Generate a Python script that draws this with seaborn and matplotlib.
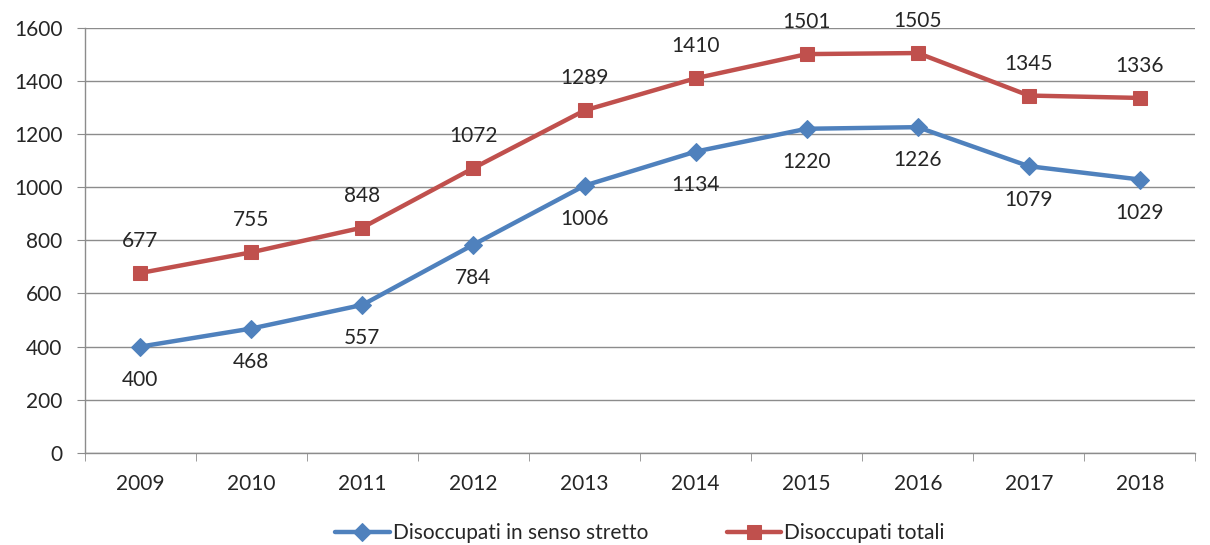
import numpy as np
import pandas as pd
import matplotlib
matplotlib.use("Agg")
import matplotlib.pyplot as plt
import seaborn as sns

# dati (migliaia)
anni = ['2009', '2010', '2011', '2012', '2013', '2014', '2015', '2016', '2017', '2018']
stretto = [400, 468, 557, 784, 1006, 1134, 1220, 1226, 1079, 1029]
totali = [677, 755, 848, 1072, 1289, 1410, 1501, 1505, 1345, 1336]

blu = '#4F81BD'
rosso = '#C0504D'

sns.set_style('white')
plt.rcParams['font.family'] = ['Lato', 'DejaVu Sans']

df = pd.DataFrame({'pos': np.arange(len(anni)), 'anno': anni,
                   'stretto': stretto, 'totali': totali})

fig = plt.figure(figsize=(12.1, 5.45), dpi=100)
ax = fig.add_axes([0.070, 0.169, 0.918, 0.780])

ax.grid(axis='y', color='#8c8c8c', linewidth=1)
ax.set_axisbelow(True)

sns.lineplot(data=df, x='pos', y='stretto', ax=ax, color=blu, linewidth=3.2,
             marker='D', markersize=9, markeredgecolor=blu,
             label='Disoccupati in senso stretto')
sns.lineplot(data=df, x='pos', y='totali', ax=ax, color=rosso, linewidth=3.2,
             marker='s', markersize=10, markeredgecolor=rosso,
             label='Disoccupati totali')

# etichette dei valori
for i, v in enumerate(stretto):
    ax.annotate(str(v), (i, v), xytext=(0, -24), textcoords='offset points',
                ha='center', va='center', fontsize=15, color='#262626')
for i, v in enumerate(totali):
    ax.annotate(str(v), (i, v), xytext=(0, 23), textcoords='offset points',
                ha='center', va='center', fontsize=15, color='#262626')

ax.set_xlim(-0.5, len(anni) - 0.5)
ax.set_ylim(0, 1600)
ax.set_yticks(np.arange(0, 1601, 200))
ax.set_xticks(df['pos'])
ax.set_xticklabels(anni)
ax.set_xticks(np.arange(-0.5, len(anni), 1), minor=True)
ax.tick_params(axis='x', which='major', length=0, pad=15, labelsize=15, labelcolor='#262626')
ax.tick_params(axis='x', which='minor', length=6, color='#8c8c8c', bottom=True)
ax.tick_params(axis='y', length=6, color='#8c8c8c', left=True, labelsize=15, labelcolor='#262626', pad=10)
ax.set_xlabel('')
ax.set_ylabel('')

for s in ['top', 'right']:
    ax.spines[s].set_visible(False)
for s in ['left', 'bottom']:
    ax.spines[s].set_color('#8c8c8c')
    ax.spines[s].set_linewidth(1)

ax.legend(loc='center', bbox_to_anchor=(0.5, -0.188), ncol=2, frameon=False,
          fontsize=15, handlelength=2.6, columnspacing=3.8, handletextpad=0.15,
          borderpad=0, borderaxespad=0)

plt.savefig('out.png', dpi=100)
